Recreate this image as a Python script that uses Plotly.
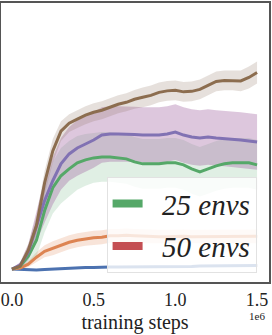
import plotly.graph_objects as go

# training steps (x 1e6)
steps_m = [i * 0.05 for i in range(31)]
steps = [s * 1e6 for s in steps_m]

tick_vals_m = [0.0, 0.5, 1.0, 1.5]
tick_text = ["0.0", "0.5", "1.0", "1.5"]

blue_mean = [-0.5, -0.75, -1, -1, -0.75, -0.5, -0.25, 0, 0, 0.25, 0.25, 0.5, 0.5, 0.5, 0.5, 0.5,
             0.5, 0.75, 0.75, 0.75, 0.75, 0.75, 0.75, 1, 1, 1, 1, 1, 1, 1.25, 1.25]
blue_std = [0.3, 0.4, 0.5, 0.5, 0.5, 0.5, 0.5, 0.5, 0.5, 0.5, 0.5, 0.5, 0.5, 0.5, 0.5, 0.5,
            0.5, 0.5, 0.5, 0.5, 0.5, 0.5, 0.5, 0.5, 0.5, 0.5, 0.5, 0.5, 0.5, 0.5, 0.5]

orange_mean = [-0.5, 0, 2, 5.5, 8.5, 10, 11.5, 13, 14, 14.75, 15.25, 15.5, 16.25, 16.25, 16.5, 16.25,
               16, 16, 15.75, 15.75, 16, 16, 15.75, 15.75, 16, 16, 16, 16, 16, 16, 16]
orange_std = [0.4, 0.8, 1.5, 2.5, 3, 3.5, 3.5, 3.5, 3.5, 3.5, 3.5, 3.5, 3.5, 3.5, 3.5, 3.5,
              3.5, 3.5, 3.5, 3.5, 3.5, 3.5, 3.5, 3.5, 3.5, 3.5, 3.5, 3.5, 3.5, 3.5, 3.5]

green_mean = [-0.5, 1, 6, 14, 29, 40.5, 46.5, 50, 53, 54.5, 55.5, 56, 56, 55.5, 55, 53.5,
              52.5, 52.5, 52.5, 53, 53, 52, 50, 48.5, 50, 51.5, 52.5, 53, 53, 53, 52]
green_std = [0.5, 1.5, 4, 8, 11, 13, 14, 14, 13.5, 13, 12.5, 12.5, 12.5, 12.5, 12.5, 12.5,
             12.5, 12.5, 12.5, 12.5, 12.5, 12.5, 12.5, 12.5, 12.5, 12.5, 12.5, 12.5, 12.5, 12.5, 12.5]

purple_mean = [-0.5, 1.5, 8, 21, 34, 44, 52.5, 57.5, 60.5, 62.5, 64.5, 67, 67.5, 67.5, 67.5, 67.25,
               67, 67, 67, 67.5, 68.5, 67, 66, 65.5, 66, 65.5, 65.25, 65, 64.5, 64, 63.5]
purple_std = [0.5, 1.5, 4, 8, 11, 12, 13, 13.5, 14, 14, 14, 14, 14, 14, 14, 14,
              14, 14, 14, 14, 14, 14, 14, 14, 14, 14, 14, 14, 14, 14, 14]

brown_mean = [-0.5, 1, 9, 21.5, 43, 59, 69, 73, 75, 77, 78.5, 79.5, 81, 82.5, 83.5, 85,
              86, 87, 88.5, 89.25, 89.5, 88.75, 89, 90, 92, 94, 94.5, 94.5, 94.25, 96, 98.5]
brown_std = [0.5, 1.5, 3, 5, 6, 6, 5, 4.5, 4.5, 4.5, 4.5, 4.5, 4.5, 4.5, 4.5, 4.75,
             5, 5, 5, 5, 5, 5, 5, 5, 5, 5, 5, 5, 5.25, 5.5, 5.5]

legend_labels = ["25 envs", "50 envs"]
legend_colors = ["#55a868", "#c44e52"]

series = [
    ("blue", blue_mean, blue_std, "#4c72b0", "rgba(76,114,176,0.2)"),
    ("orange", orange_mean, orange_std, "#dd8452", "rgba(221,132,82,0.22)"),
    ("green", green_mean, green_std, "#55a868", "rgba(85,168,104,0.18)"),
    ("purple", purple_mean, purple_std, "#8172b3", "rgba(160,100,160,0.36)"),
    ("brown", brown_mean, brown_std, "#8c6d4f", "rgba(140,115,95,0.22)"),
]

FONT = "Liberation Serif"

fig = go.Figure()

# bands first
for name, m, s, c, fc in series:
    upper = [a + b for a, b in zip(m, s)]
    lower = [a - b for a, b in zip(m, s)]
    fig.add_trace(go.Scatter(
        x=steps + steps[::-1], y=upper + lower[::-1],
        fill="toself", fillcolor=fc, line=dict(width=0),
        mode="lines", showlegend=False, hoverinfo="skip"))

for name, m, s, c, fc in series:
    fig.add_trace(go.Scatter(
        x=steps, y=m, mode="lines", line=dict(color=c, width=3),
        name=name, showlegend=False))

# legend entries
for lab, col in zip(legend_labels, legend_colors):
    fig.add_trace(go.Scatter(
        x=[None], y=[None], mode="lines", line=dict(color=col, width=8),
        name=f"\u00a0\u00a0<i>{lab}</i>", showlegend=True, legendgroup=lab))

fig.update_layout(
    width=272, height=335,
    margin=dict(l=1, r=2, t=1, b=53),
    paper_bgcolor="white", plot_bgcolor="white",
    font=dict(family=FONT, color="#222"),
    showlegend=True,
    legend=dict(
        x=0.394, y=0.032, xanchor="left", yanchor="bottom",
        bgcolor="rgba(255,255,255,0.8)", bordercolor="#e2e2e2", borderwidth=1,
        font=dict(family=FONT, size=29, color="#222"),
        tracegroupgap=2, itemwidth=30,
    ),
    xaxis=dict(
        range=[-0.067e6, 1.573e6],
        tickvals=[v * 1e6 for v in tick_vals_m], ticktext=tick_text,
        tickfont=dict(family=FONT, size=18, color="#222"),
        showgrid=False, zeroline=False,
        showline=True, mirror=True, linecolor="#555", linewidth=2,
        ticks="",
        title=dict(text="training steps", font=dict(family=FONT, size=20, color="#222"), standoff=6),
    ),
    yaxis=dict(
        range=[-7, 133.5], showticklabels=False, showgrid=False, zeroline=False,
        showline=True, mirror=True, linecolor="#555", linewidth=2, ticks="",
    ),
    annotations=[dict(
        text="1e6", xref="paper", yref="paper", x=0.955, y=-0.121,
        xanchor="center", yanchor="middle", showarrow=False,
        font=dict(family=FONT, size=11, color="#222"))],
)

fig.write_html("out.html", config={"displayModeBar": False},
               post_script="document.body.style.margin='0';")
